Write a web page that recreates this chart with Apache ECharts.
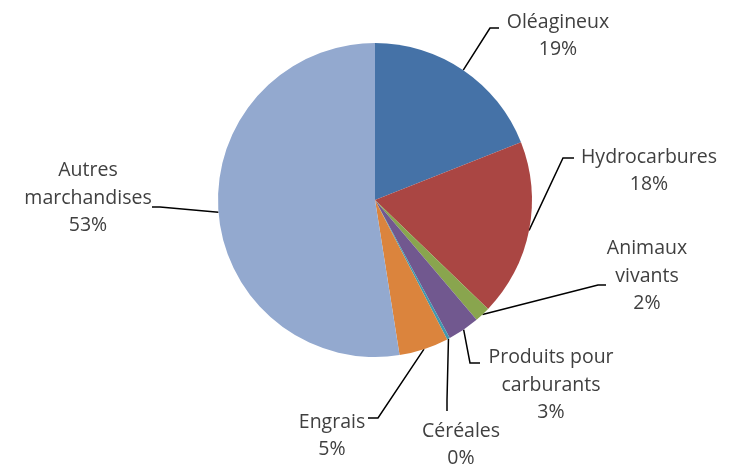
<!DOCTYPE html>
<html>
<head>
<meta charset="utf-8">
<script src="https://cdn.jsdelivr.net/npm/echarts@6/dist/echarts.min.js"></script>
<style>
html, body { margin: 0; padding: 0; background: #fff; }
#divChart { width: 739px; height: 466px; }
</style>
</head>
<body>
<div id="divChart"></div>
<script>
var categories = ['Oléagineux', 'Hydrocarbures', 'Animaux\nvivants', 'Produits pour\ncarburants', 'Céréales', 'Engrais', 'Autres\nmarchandises'];
var shares = [19.0, 18.2, 1.6, 3.3, 0.3, 5.1, 52.5];
var colors = ['#4572A7', '#AA4643', '#89A54E', '#71588F', '#4198AF', '#DB843D', '#93A9CF'];

// label placement (centre of text block) and leader line elbow/end
var labelPos = [[558, 36], [649, 171], [647, 276], [551, 385], [461, 445], [332, 436], [88, 198]];
var lineBend = [
    [[490, 28], [499, 28]],
    [[563, 158], [574, 158]],
    [[598, 285], [606, 285]],
    [[470, 363], [480, 363]],
    [[447, 400], [447, 411]],
    [[378, 418], [368, 418]],
    [[160, 207], [152, 207]]
];

var myChart = echarts.init(document.getElementById('divChart'));

function buildData() {
    var result = [];
    for (var i = 0; i < categories.length; i++) {
        result.push({ name: categories[i], value: shares[i], itemStyle: { color: colors[i] } });
    }
    return result;
}

var option = {
    animation: false,
    series: [{
        type: 'pie',
        center: [375, 200],
        radius: 157,
        startAngle: 90,
        clockwise: true,
        percentPrecision: 0,
        avoidLabelOverlap: false,
        data: buildData(),
        label: {
            show: true,
            position: 'outside',
            formatter: '{b}\n{d}%',
            fontFamily: 'Open Sans',
            fontSize: 19.5,
            lineHeight: 27.5,
            color: '#404040',
            align: 'center'
        },
        labelLine: {
            show: true,
            length: 20,
            length2: 10,
            lineStyle: { color: '#000', width: 1.5 }
        },
        labelLayout: function (params) {
            var i = params.dataIndex;
            var start = params.labelLinePoints ? params.labelLinePoints[0] : lineBend[i][0];
            return {
                x: labelPos[i][0],
                y: labelPos[i][1],
                align: 'center',
                verticalAlign: 'middle',
                labelLinePoints: [start, lineBend[i][0], lineBend[i][1]]
            };
        }
    }]
};
myChart.setOption(option);
</script>
</body>
</html>
